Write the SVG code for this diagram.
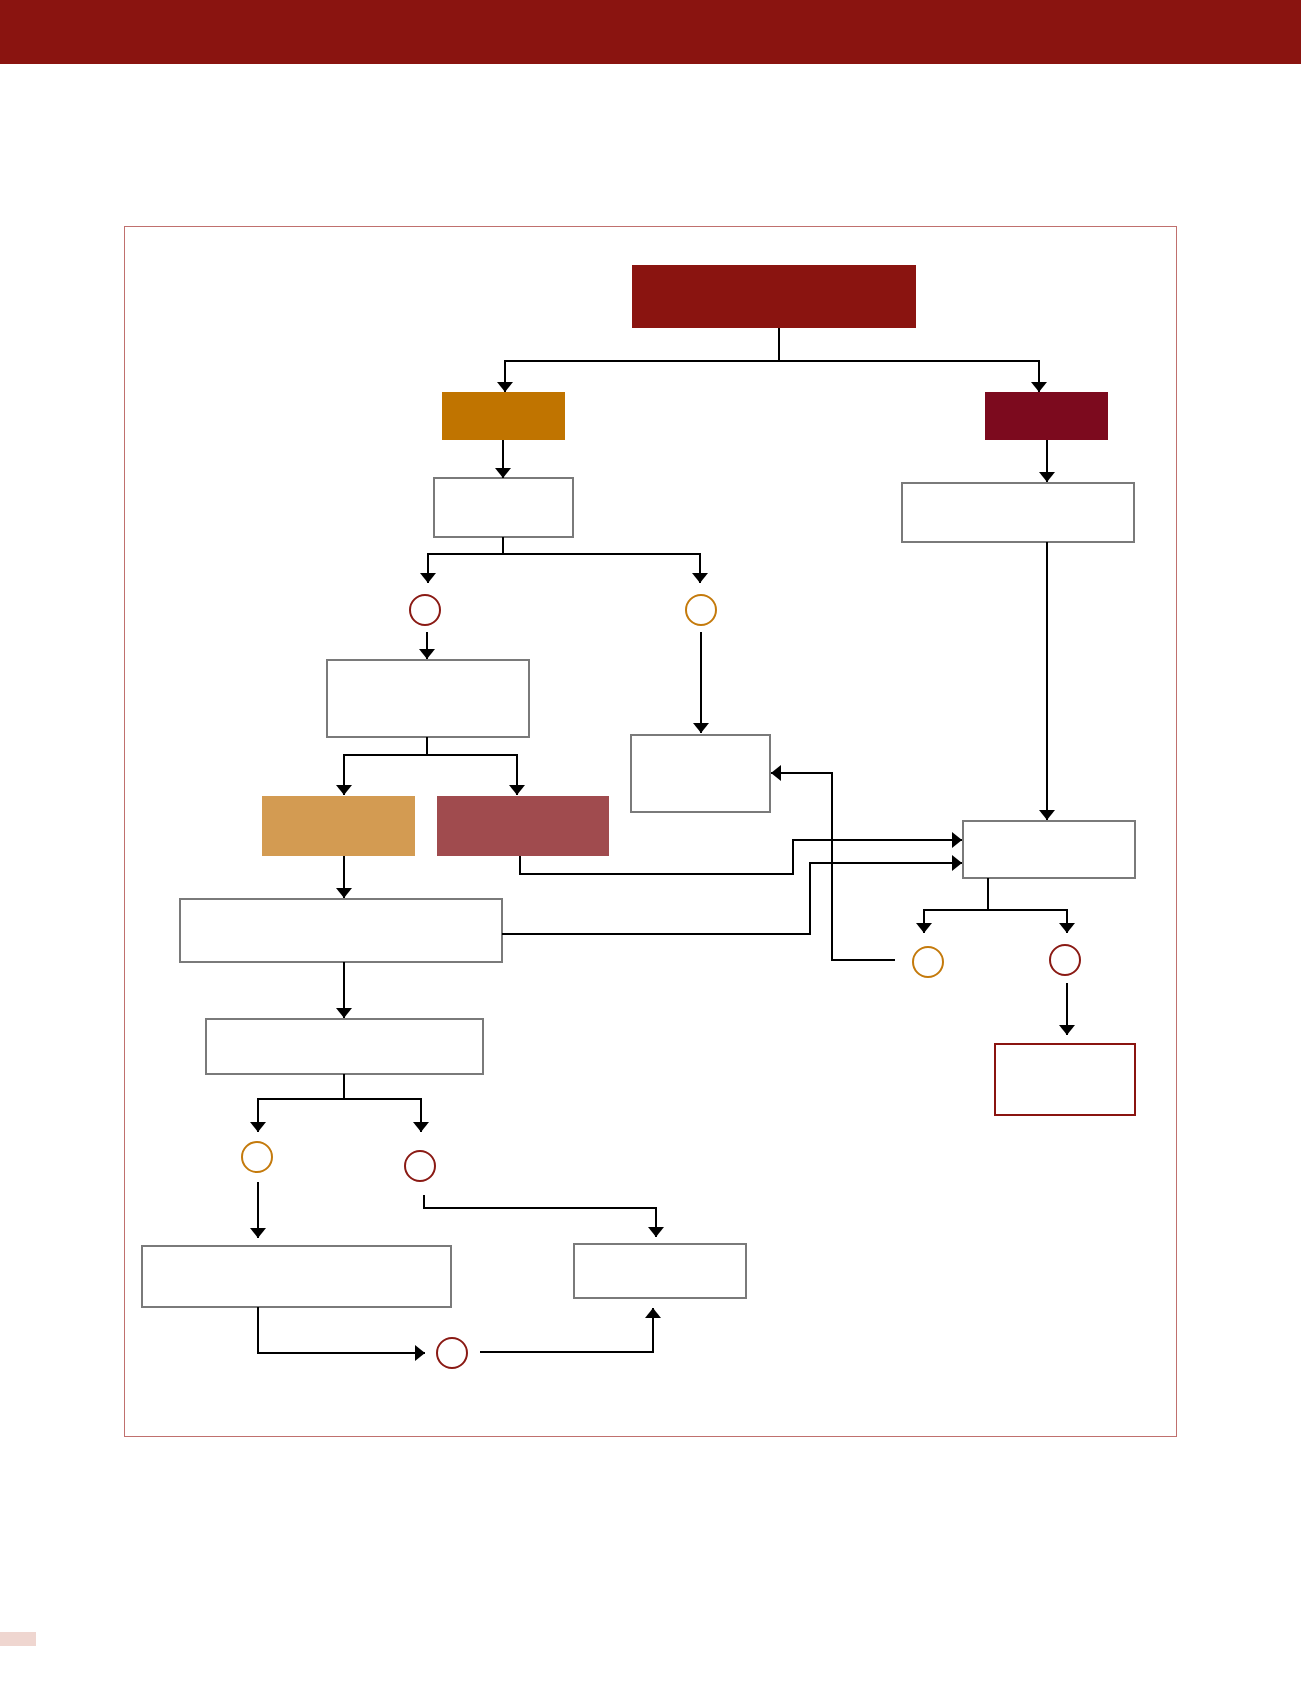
<svg xmlns="http://www.w3.org/2000/svg" width="1301" height="1703" viewBox="0 0 1301 1703">
<style>
.box{fill:#fff;stroke:#7a7a7a;stroke-width:2}
.rbox{fill:#fff;stroke:#8a1410;stroke-width:2}
.oc{fill:#fff;stroke:#c47a0c;stroke-width:2}
.rc{fill:#fff;stroke:#8a1a14;stroke-width:2}
.con{fill:none;stroke:#000;stroke-width:2}
</style>
<defs>
<marker id="ah" viewBox="0 0 10 16" refX="10" refY="8" markerWidth="10" markerHeight="16" markerUnits="userSpaceOnUse" orient="auto">
<path d="M0,0 L10,8 L0,16 z" fill="#000"/>
</marker>
</defs>
<rect x="0" y="0" width="1301" height="64" fill="#8a1410"/>
<rect x="0" y="1632" width="36" height="14" fill="#efd6d0"/>
<rect x="124.5" y="226.5" width="1052" height="1210" fill="none" stroke="#c0706e" stroke-width="1"/>
<g id="n-top"><rect x="632" y="265" width="284" height="63" fill="#8a1410"/></g>
<g id="n-orange"><rect x="442" y="392" width="123" height="48" fill="#c07400"/></g>
<g id="n-dark"><rect x="985" y="392" width="123" height="48" fill="#7c0a1e"/></g>
<g id="n-b1"><rect class="box" x="434" y="478" width="139" height="59"/></g>
<g id="n-b2"><rect class="box" x="902" y="483" width="232" height="59"/></g>
<g id="n-c1"><circle class="rc" cx="425" cy="610" r="15"/></g>
<g id="n-c2"><circle class="oc" cx="701" cy="610" r="15"/></g>
<g id="n-b3"><rect class="box" x="327" y="660" width="202" height="77"/></g>
<g id="n-b4"><rect class="box" x="631" y="735" width="139" height="77"/></g>
<g id="n-tan"><rect x="262" y="796" width="153" height="60" fill="#d39b52"/></g>
<g id="n-rose"><rect x="437" y="796" width="172" height="60" fill="#a04b4e"/></g>
<g id="n-b5"><rect class="box" x="963" y="821" width="172" height="57"/></g>
<g id="n-b6"><rect class="box" x="180" y="899" width="322" height="63"/></g>
<g id="n-c3"><circle class="oc" cx="928" cy="962" r="15"/></g>
<g id="n-c4"><circle class="rc" cx="1065" cy="960" r="15"/></g>
<g id="n-b7"><rect class="box" x="206" y="1019" width="277" height="55"/></g>
<g id="n-b8"><rect class="rbox" x="995" y="1044" width="140" height="71"/></g>
<g id="n-c5"><circle class="oc" cx="257" cy="1157" r="15"/></g>
<g id="n-c6"><circle class="rc" cx="420" cy="1166" r="15"/></g>
<g id="n-b9"><rect class="box" x="142" y="1246" width="309" height="61"/></g>
<g id="n-b10"><rect class="box" x="574" y="1244" width="172" height="54"/></g>
<g id="n-c7"><circle class="rc" cx="452" cy="1353" r="15"/></g>
<g id="connectors">
<path class="con" marker-end="url(#ah)" d="M779,328 V361 H505 V392"/>
<path class="con" marker-end="url(#ah)" d="M779,361 H1039 V392"/>
<path class="con" marker-end="url(#ah)" d="M503,440 V478"/>
<path class="con" marker-end="url(#ah)" d="M1047,440 V482"/>
<path class="con" marker-end="url(#ah)" d="M503,537 V554 H428 V583"/>
<path class="con" marker-end="url(#ah)" d="M503,554 H700 V583"/>
<path class="con" marker-end="url(#ah)" d="M427,632 V659"/>
<path class="con" marker-end="url(#ah)" d="M701,632 V733"/>
<path class="con" marker-end="url(#ah)" d="M1047,542 V820"/>
<path class="con" marker-end="url(#ah)" d="M427,737 V755 H344 V795"/>
<path class="con" marker-end="url(#ah)" d="M427,755 H517 V795"/>
<path class="con" marker-end="url(#ah)" d="M520,856 V874 H793 V840 H962"/>
<path class="con" marker-end="url(#ah)" d="M344,856 V898"/>
<path class="con" marker-end="url(#ah)" d="M502,934 H810 V863 H962"/>
<path class="con" marker-end="url(#ah)" d="M988,878 V910 H924 V933"/>
<path class="con" marker-end="url(#ah)" d="M988,910 H1067 V933"/>
<path class="con" marker-end="url(#ah)" d="M1067,983 V1035"/>
<path class="con" marker-end="url(#ah)" d="M895,960 H832 V773 H771"/>
<path class="con" marker-end="url(#ah)" d="M344,962 V1018"/>
<path class="con" marker-end="url(#ah)" d="M344,1074 V1099 H258 V1132"/>
<path class="con" marker-end="url(#ah)" d="M344,1099 H421 V1132"/>
<path class="con" marker-end="url(#ah)" d="M258,1182 V1238"/>
<path class="con" marker-end="url(#ah)" d="M424,1195 V1208 H656 V1237"/>
<path class="con" marker-end="url(#ah)" d="M258,1307 V1353 H425"/>
<path class="con" marker-end="url(#ah)" d="M480,1352 H653 V1308"/>
</g>
</svg>
